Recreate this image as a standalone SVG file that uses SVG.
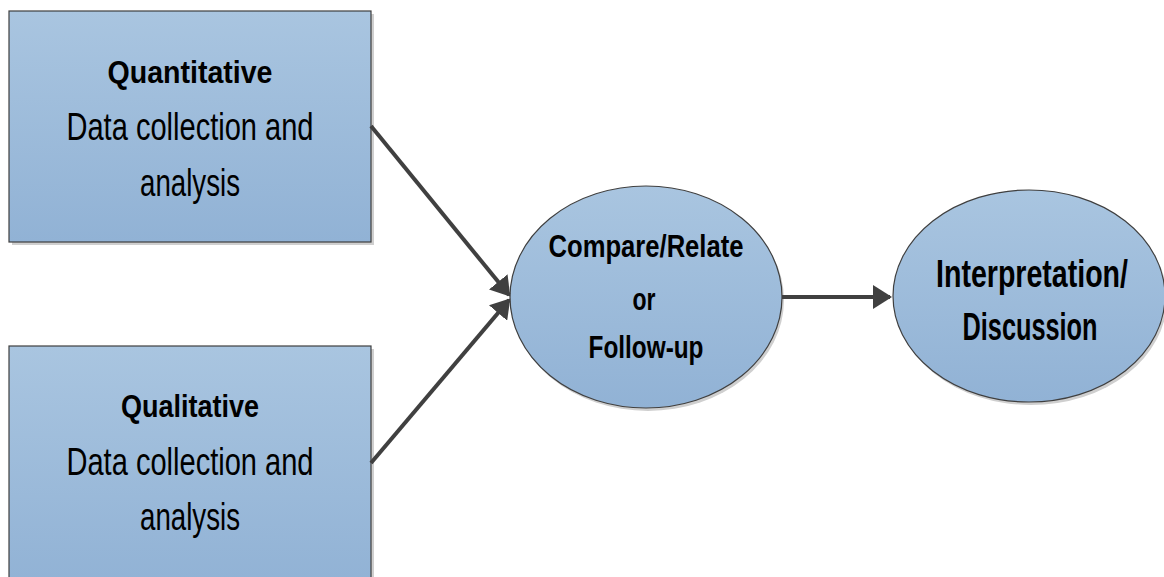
<svg xmlns="http://www.w3.org/2000/svg" width="1164" height="577" viewBox="0 0 1164 577">
  <style>
    .shape { fill: url(#blueFill); stroke: #3f3f3f; stroke-width: 1.2; }
    .shadow { fill: #cfcfcf; }
    .title { font-family: "Liberation Sans", Arial, sans-serif; font-weight: bold; fill: #000; text-anchor: middle; }
    .body { font-family: "Liberation Sans", Arial, sans-serif; fill: #000; text-anchor: middle; }
    .link { stroke: #404040; stroke-width: 4; fill: none; marker-end: url(#head); }
  </style>
  <defs>
    <linearGradient id="blueFill" x1="0" y1="0" x2="0" y2="1">
      <stop offset="0" stop-color="#a9c5e0"/>
      <stop offset="1" stop-color="#91b2d5"/>
    </linearGradient>
    <marker id="head" markerUnits="userSpaceOnUse" markerWidth="20" markerHeight="24" refX="17" refY="12" orient="auto">
      <path d="M0,0 L19,12 L0,24 Z" fill="#404040"/>
    </marker>
  </defs>

  <g id="quantitative">
    <rect class="shadow" x="12" y="14" width="362" height="231"/>
    <rect class="shape" x="9" y="11" width="362" height="231"/>
    <text class="title" x="190" y="83" font-size="32" textLength="165" lengthAdjust="spacingAndGlyphs">Quantitative</text>
    <text class="body" x="190" y="140" font-size="38" textLength="247" lengthAdjust="spacingAndGlyphs">Data collection and</text>
    <text class="body" x="190" y="196" font-size="38" textLength="100" lengthAdjust="spacingAndGlyphs">analysis</text>
  </g>

  <g id="qualitative">
    <rect class="shadow" x="12" y="349" width="362" height="240"/>
    <rect class="shape" x="9" y="346" width="362" height="240"/>
    <text class="title" x="190" y="417" font-size="32" textLength="138" lengthAdjust="spacingAndGlyphs">Qualitative</text>
    <text class="body" x="190" y="475" font-size="38" textLength="247" lengthAdjust="spacingAndGlyphs">Data collection and</text>
    <text class="body" x="190" y="530" font-size="38" textLength="100" lengthAdjust="spacingAndGlyphs">analysis</text>
  </g>

  <g id="compare">
    <ellipse class="shadow" cx="648" cy="300" rx="136" ry="111"/>
    <ellipse class="shape" cx="646" cy="297" rx="136" ry="111"/>
    <text class="title" x="646" y="257" font-size="32" textLength="195" lengthAdjust="spacingAndGlyphs">Compare/Relate</text>
    <text class="title" x="644" y="310" font-size="32" textLength="23" lengthAdjust="spacingAndGlyphs">or</text>
    <text class="title" x="646" y="358" font-size="32" textLength="115" lengthAdjust="spacingAndGlyphs">Follow-up</text>
  </g>

  <g id="interpretation">
    <ellipse class="shadow" cx="1031" cy="299" rx="136" ry="106"/>
    <ellipse class="shape" cx="1029" cy="296" rx="136" ry="106"/>
    <text class="title" x="1032" y="287" font-size="38" textLength="192" lengthAdjust="spacingAndGlyphs">Interpretation/</text>
    <text class="title" x="1030" y="340" font-size="38" textLength="135" lengthAdjust="spacingAndGlyphs">Discussion</text>
  </g>

  <g id="connectors">
    <line class="link" x1="371" y1="126" x2="509" y2="295"/>
    <line class="link" x1="371" y1="463" x2="509" y2="300"/>
    <line class="link" x1="782" y1="297" x2="890" y2="297"/>
  </g>
</svg>
